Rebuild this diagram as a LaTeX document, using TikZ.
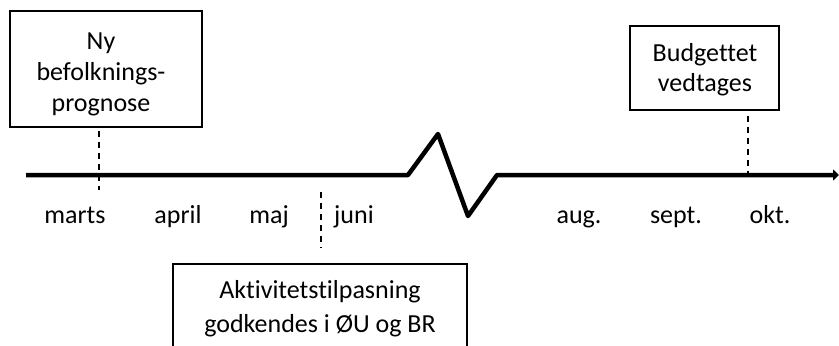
\documentclass[tikz,border=0pt]{standalone}
\usepackage{fontspec}
\setmainfont{Carlito}[Ligatures={NoCommon,NoRequired,NoContextual}]
\usetikzlibrary{arrows.meta}
\begin{document}
\begin{tikzpicture}[x=1bp,y=-1bp,
  txt/.style={anchor=base,inner sep=0pt,font=\fontsize{26bp}{31bp}\selectfont},
  box/.style={draw,line width=1.4bp,inner sep=0pt},
  tline/.style={line width=4.5bp,line join=round},
  dline/.style={line width=1.5bp,dash pattern=on 6bp off 5bp}]
\useasboundingbox (0,0) rectangle (839,345);
\clip (0,0) rectangle (839,345);
% boxes
\node[box,minimum width=192bp,minimum height=116bp] (b1) at (106,69) {};
\node[box,minimum width=149bp,minimum height=84bp] (b2) at (704.5,68) {};
\node[box,minimum width=294bp,minimum height=120bp] (b3) at (320,324) {};
% box texts
\node[txt] (b1l1) at (101,49) {Ny};
\node[txt] (b1l2) at (101,80) {befolknings-};
\node[txt] (b1l3) at (101,111) {prognose};
\node[txt] (b2l1) at (705,61) {Budgettet};
\node[txt] (b2l2) at (705,91) {vedtages};
\node[txt] (b3l1) at (320,298) {Aktivitetstilpasning};
\node[txt] (b3l2) at (320,332) {godkendes i ØU og BR};
% timeline
\coordinate (t0) at (26,175);
\coordinate (z1) at (408,175);
\coordinate (z2) at (438,134);
\coordinate (z3) at (468,216);
\coordinate (z4) at (497,175);
\coordinate (t1) at (839,175);
\draw[tline,-{Triangle[length=6bp,width=11bp]}] (t0) -- (z1) -- (z2) -- (z3) -- (z4) -- (t1);
% months
\node[txt] (m1) at (75,223) {marts};
\node[txt] (m2) at (178,223) {april};
\node[txt] (m3) at (269,223) {maj};
\node[txt] (m4) at (354,223) {juni};
\node[txt] (m5) at (579,223) {aug.};
\node[txt] (m6) at (676,223) {sept.};
\node[txt] (m7) at (770,223) {okt.};
% dashed markers
\coordinate (d1) at (99,190);
\coordinate (d2) at (748,175);
\coordinate (d3) at (321,192);
\draw[dline] (d1 |- b1.south) ++(0,3) -- (d1);
\draw[dline] (d2 |- b2.south) ++(0,5) -- (d2);
\draw[dline] (d3) -- ([yshift=16bp]d3 |- b3.north);
\end{tikzpicture}
\end{document}
